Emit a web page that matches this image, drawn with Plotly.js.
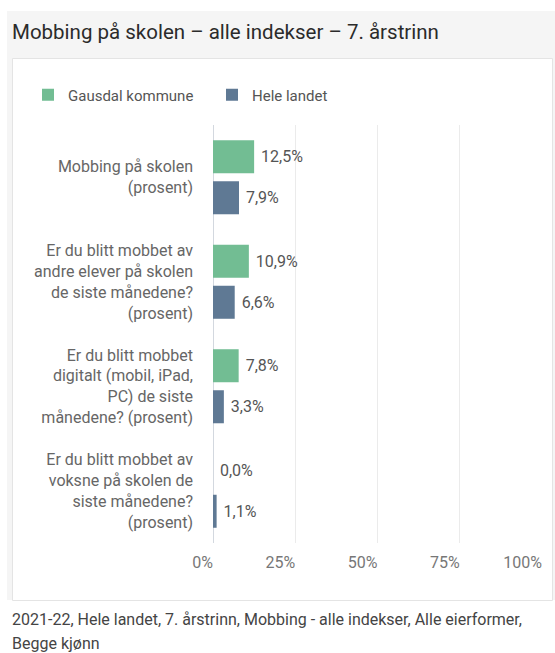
<!DOCTYPE html>
<html>
<head>
<meta charset="utf-8">
<script src="https://cdn.plot.ly/plotly-3.0.1.min.js"></script>
<style>html,body{margin:0;padding:0;background:#fff;}#chart{width:555px;height:653px;}</style>
</head>
<body>
<div id="chart"></div>
<script>
const categories = [
  "Mobbing på skolen<br>(prosent)",
  "Er du blitt mobbet av<br>andre elever på skolen<br>de siste månedene?<br>(prosent)",
  "Er du blitt mobbet<br>digitalt (mobil, iPad,<br>PC) de siste<br>månedene? (prosent)",
  "Er du blitt mobbet av<br>voksne på skolen de<br>siste månedene?<br>(prosent)"
];
const seriesNames = ["Gausdal kommune", "Hele landet"];
const gausdal = [12.5, 10.9, 7.8, 0.0];
const heleLandet = [7.9, 6.6, 3.3, 1.1];
const tickValues = [0, 25, 50, 75, 100];
const tickLabels = ["0%", "25%", "50%", "75%", "100%"];
const titleText = "Mobbing på skolen – alle indekser – 7. årstrinn";
const captionLines = [
  "2021-22, Hele landet, 7. årstrinn, Mobbing - alle indekser, Alle eierformer,",
  "Begge kjønn"
];

const W = 555, H = 653;
const M = {l: 213, r: 13, t: 125, b: 110};
const PW = W - M.l - M.r, PH = H - M.t - M.b;
const px = x => (x - M.l) / PW;
const py = y => (H - M.b - y) / PH;

const fmt = v => "\u00a0" + v.toFixed(1).replace(".", ",") + "%";
const FONT = "Roboto, 'Open Sans', sans-serif";

const traces = [
  {type: "bar", orientation: "h", name: seriesNames[0], y: categories, x: gausdal,
   marker: {color: "#72bd93"}, text: gausdal.map(fmt), textposition: "outside",
   textfont: {family: FONT, size: 16, color: "#555"}, cliponaxis: false, hoverinfo: "none"},
  {type: "bar", orientation: "h", name: seriesNames[1], y: categories, x: heleLandet,
   marker: {color: "#5f7994"}, text: heleLandet.map(fmt), textposition: "outside",
   textfont: {family: FONT, size: 16, color: "#555"}, cliponaxis: false, hoverinfo: "none"}
];

const layout = {
  width: W, height: H,
  margin: M,
  paper_bgcolor: "#ffffff",
  plot_bgcolor: "rgba(0,0,0,0)",
  font: {family: FONT, color: "#555"},
  barmode: "group",
  bargap: 0.215,
  bargroupgap: 0.195,
  title: {text: titleText, xref: "container", yref: "container", x: 12 / W, xanchor: "left",
          y: 1 - 32 / H, yanchor: "middle", font: {family: FONT, size: 20.5, color: "#2b2b2b"}},
  xaxis: {range: [0, 100], tickvals: tickValues, ticktext: tickLabels, ticklabelposition: "outside left",
          showgrid: true, gridcolor: "#ebebeb", zeroline: true, zerolinecolor: "#d3d8df", zerolinewidth: 1,
          showline: false, ticks: "", ticklabelstandoff: 8, fixedrange: true,
          tickfont: {family: FONT, size: 16, color: "#777"}},
  yaxis: {type: "category", autorange: "reversed", showgrid: false, zeroline: false, showline: false,
          ticks: "", ticklabelstandoff: 19, fixedrange: true,
          tickfont: {family: FONT, size: 16, color: "#666"}},
  showlegend: true,
  legend: {orientation: "h", x: px(28), xanchor: "left", y: py(95), yanchor: "middle",
           font: {family: FONT, size: 15, color: "#555"}, entrywidth: 139, entrywidthmode: "pixels",
           bgcolor: "rgba(0,0,0,0)"},
  shapes: [
    {type: "rect", xref: "paper", yref: "paper", x0: px(7), x1: px(555), y0: py(600), y1: py(11),
     fillcolor: "#f5f5f5", line: {width: 0}, layer: "below"},
    {type: "rect", xref: "paper", yref: "paper", x0: px(12.5), x1: px(552.5), y0: py(600.5), y1: py(58.5),
     fillcolor: "#ffffff", line: {width: 1, color: "#e4e4e4"}, layer: "below"}
  ],
  annotations: captionLines.map((t, i) => ({
    text: t, xref: "paper", yref: "paper", x: px(10), y: py(619 + i * 24), xanchor: "left", yanchor: "middle",
    showarrow: false, font: {family: FONT, size: 16, color: "#444"}
  }))
};

Plotly.newPlot("chart", traces, layout, {displayModeBar: false, staticPlot: true});
</script>
</body>
</html>
